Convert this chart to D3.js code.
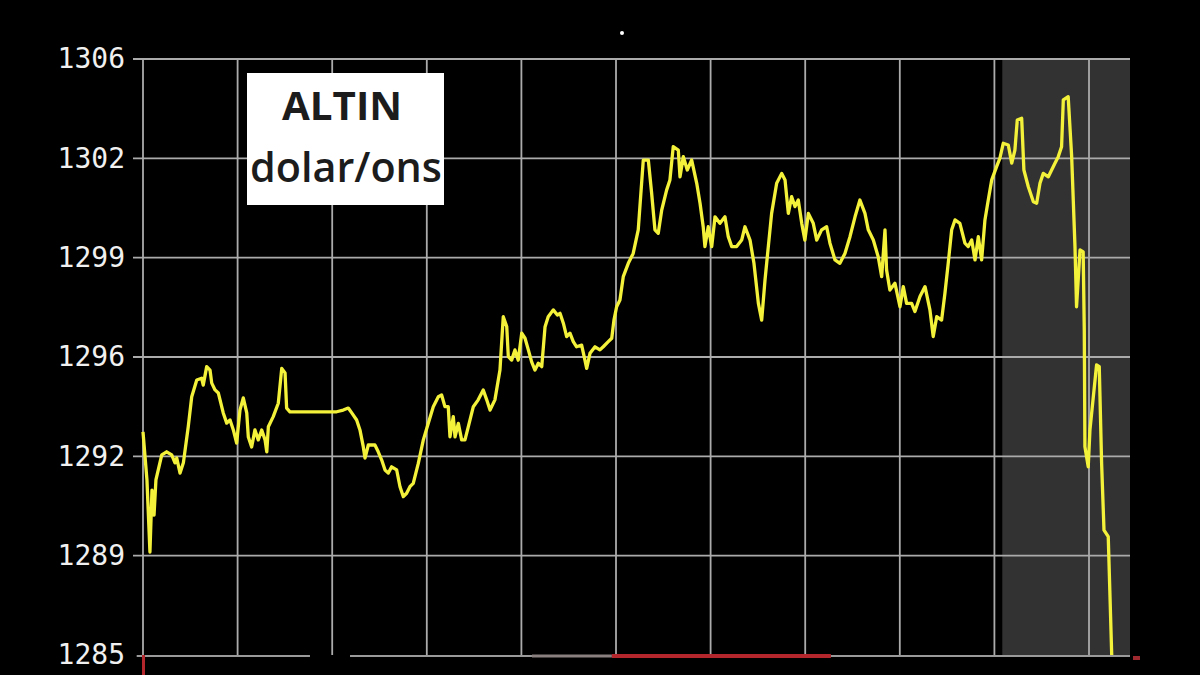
<!DOCTYPE html>
<html>
<head>
<meta charset="utf-8">
<script src="https://cdn.jsdelivr.net/npm/d3@7"></script>
<style>
  html, body { margin: 0; padding: 0; background: #000; }
  svg { display: block; }
</style>
</head>
<body>
<svg id="chart" width="1200" height="675"></svg>
<script>
// ---- Data (time in minutes from start of session, price in USD/oz) ----
const minutes = [
  0, 2.5, 4.4, 5.7, 7.0, 8.2, 11.9, 15.0, 18.2, 20.3, 21.4, 23.5, 25.6, 28.7, 30.9, 34.1, 37.2, 38.2, 40.4, 42.5,
  43.6, 45.7, 47.8, 50.9, 53.1, 55.2, 57.3, 59.4, 61.5, 63.6, 65.8, 66.8, 68.9, 71.0, 73.1, 75.3, 77.4, 78.5, 79.5, 82.6,
  85.8, 88.0, 90.1, 91.1, 93.2, 122.8, 127.0, 130.2, 132.4, 135.5, 137.6, 139.7, 140.8, 142.9, 147.1, 149.2, 151.4, 153.5, 155.6, 157.7,
  160.9, 163.0, 165.1, 167.2, 169.3, 171.4, 174.6, 177.8, 180.9, 184.1, 187.3, 189.4, 191.5, 193.6, 194.7, 196.8, 197.9, 200.0, 202.1, 204.2,
  206.3, 209.5, 212.6, 215.8, 218.0, 220.1, 223.2, 226.4, 228.5, 230.7, 231.7, 233.8, 235.9, 238.0, 240.2, 242.3, 244.4, 246.5, 248.6, 250.7,
  252.9, 255.0, 257.0, 260.2, 262.8, 264.5, 266.6, 268.7, 270.8, 272.9, 275.0, 278.2, 280.3, 281.4, 283.5, 286.7, 289.8, 291.9, 295.1, 297.3,
  298.7, 300.4, 302.5, 304.6, 307.8, 310.9, 314.1, 317.3, 320.5, 322.6, 324.7, 326.8, 329.0, 332.1, 334.2, 336.3, 339.5, 340.6, 342.7, 345.2,
  348.0, 351.2, 353.3, 355.3, 356.4, 358.5, 360.7, 362.8, 365.9, 369.1, 371.2, 373.4, 376.5, 379.7, 381.8, 385.0, 387.5, 390.3, 392.4, 394.5,
  396.6, 398.7, 401.9, 405.1, 407.2, 409.3, 411.4, 413.5, 415.6, 417.8, 419.8, 422.0, 425.1, 427.3, 430.4, 433.6, 435.7, 438.9, 442.0, 445.2,
  448.4, 451.6, 454.7, 457.9, 460.0, 463.2, 466.3, 468.5, 470.6, 471.6, 473.7, 476.9, 480.1, 482.2, 484.3, 487.5, 489.6, 492.8, 496.0, 499.1,
  501.2, 503.4, 506.5, 508.6, 510.7, 512.9, 515.0, 518.1, 521.3, 523.4, 525.6, 527.7, 529.8, 531.9, 534.0, 536.1, 538.3, 541.4, 543.5, 545.6,
  548.8, 551.0, 553.0, 554.5, 557.3, 558.7, 561.5, 564.7, 566.8, 568.9, 571.0, 574.2, 576.3, 578.4, 580.5, 582.6, 583.7, 586.8, 589.0, 591.1,
  592.1, 594.3, 596.3, 597.0, 597.4, 599.5, 600.6, 604.8, 606.5, 608.0, 609.5, 612.2, 614.4
];
const prices = [
  1292.86, 1291.17, 1288.63, 1290.81, 1289.93, 1291.17, 1292.05, 1292.16, 1292.05, 1291.77, 1291.94, 1291.41, 1291.77, 1293.04, 1294.10, 1294.69, 1294.75, 1294.51, 1295.16, 1295.04,
  1294.58, 1294.34, 1294.23, 1293.53, 1293.17, 1293.28, 1292.93, 1292.47, 1293.63, 1294.06, 1293.53, 1292.68, 1292.33, 1292.93, 1292.58, 1292.93, 1292.58, 1292.16, 1293.04, 1293.40,
  1293.87, 1295.10, 1294.94, 1293.70, 1293.57, 1293.57, 1293.63, 1293.70, 1293.53, 1293.28, 1292.93, 1292.34, 1291.94, 1292.40, 1292.40, 1292.16, 1291.87, 1291.52, 1291.41, 1291.63,
  1291.52, 1290.93, 1290.58, 1290.70, 1290.93, 1291.05, 1291.75, 1292.58, 1293.16, 1293.75, 1294.10, 1294.16, 1293.75, 1293.75, 1292.69, 1293.40, 1292.69, 1293.16, 1292.58, 1292.58,
  1293.04, 1293.75, 1293.99, 1294.34, 1293.99, 1293.63, 1293.99, 1295.04, 1296.92, 1296.57, 1295.51, 1295.39, 1295.75, 1295.39, 1296.34, 1296.16, 1295.75, 1295.33, 1295.04, 1295.28,
  1295.16, 1296.57, 1296.92, 1297.16, 1296.98, 1297.04, 1296.69, 1296.22, 1296.34, 1296.04, 1295.86, 1295.92, 1295.39, 1295.10, 1295.63, 1295.86, 1295.75, 1295.86, 1296.04, 1296.16,
  1296.80, 1297.27, 1297.51, 1298.33, 1298.80, 1299.15, 1299.98, 1302.44, 1302.44, 1301.27, 1299.98, 1299.86, 1300.68, 1301.38, 1301.74, 1302.91, 1302.79, 1301.85, 1302.56, 1302.09,
  1302.44, 1301.62, 1300.92, 1300.09, 1299.39, 1300.09, 1299.39, 1300.44, 1300.21, 1300.44, 1299.74, 1299.39, 1299.39, 1299.62, 1300.09, 1299.62, 1298.80, 1297.39, 1296.80, 1298.21,
  1299.39, 1300.56, 1301.62, 1301.97, 1301.74, 1300.56, 1301.15, 1300.80, 1301.03, 1300.21, 1299.62, 1300.56, 1300.21, 1299.62, 1299.98, 1300.09, 1299.51, 1298.92, 1298.80, 1299.15,
  1299.74, 1300.44, 1301.03, 1300.56, 1299.98, 1299.62, 1299.03, 1298.33, 1299.98, 1298.57, 1297.86, 1298.10, 1297.27, 1297.98, 1297.39, 1297.39, 1297.10, 1297.63, 1297.98, 1297.16,
  1296.22, 1296.92, 1296.80, 1297.74, 1298.80, 1299.98, 1300.33, 1300.21, 1299.51, 1299.39, 1299.62, 1298.92, 1299.74, 1298.92, 1300.33, 1301.03, 1301.74, 1302.21, 1302.51, 1303.03,
  1302.97, 1302.33, 1302.79, 1303.85, 1303.91, 1302.09, 1301.50, 1300.97, 1300.92, 1301.62, 1301.97, 1301.85, 1302.09, 1302.33, 1302.56, 1302.91, 1304.56, 1304.67, 1302.56, 1299.39,
  1297.27, 1299.27, 1299.20, 1296.45, 1292.34, 1291.63, 1292.93, 1295.22, 1295.16, 1291.75, 1289.40, 1289.17, 1285.00
];

const yTickValues = [1285, 1288.5, 1292, 1295.5, 1299, 1302.5, 1306];
const yTickLabels = ["1285", "1289", "1292", "1296", "1299", "1302", "1306"];
const xGridMinutes = [0, 60, 120, 180, 240, 300, 360, 420, 480, 540, 600];
const titleLines = ["ALTIN", "dolar/ons"];
// after-hours shaded window (minutes)
const shadeWindow = [545, 626];
// session strip along the bottom: [start, end, kind]
const stripStart = [-4, 131.3, 246.7, 297.4, 436.3];
const stripEnd   = [105.9, 246.7, 297.4, 436.3, 626];
const stripKind  = ["gray", "gray", "light", "red", "gray"];

// ---- Layout ----
const svg = d3.select("#chart");
const W = 1200, H = 675;
svg.append("rect").attr("width", W).attr("height", H).attr("fill", "#000");

const x = d3.scaleLinear().domain([0, 626]).range([143, 1130]);
const y = d3.scaleLinear().domain([1285, 1306]).range([655, 59]);

// shaded window
svg.append("rect")
  .attr("x", x(shadeWindow[0]))
  .attr("y", y(1306))
  .attr("width", x(shadeWindow[1]) - x(shadeWindow[0]))
  .attr("height", y(1285) - y(1306))
  .attr("fill", "#323232");

// horizontal grid (except bottom which is the session strip)
svg.append("g").selectAll("line")
  .data(yTickValues.filter(v => v !== 1285))
  .join("line")
  .attr("x1", x(0) - 10).attr("x2", x(626))
  .attr("y1", d => y(d)).attr("y2", d => y(d))
  .attr("stroke", "#ababab").attr("stroke-width", 1.8);

// vertical grid
svg.append("g").selectAll("line")
  .data(xGridMinutes)
  .join("line")
  .attr("x1", d => x(d)).attr("x2", d => x(d))
  .attr("y1", y(1306)).attr("y2", y(1285))
  .attr("stroke", "#ababab").attr("stroke-width", 1.8);

// bottom session strip
const stripColor = { gray: "#9a9a9a", light: "#8a8080", red: "#b3262b" };
const stripWidth = { gray: 2, light: 3, red: 4 };
svg.append("g").selectAll("line")
  .data(d3.range(stripStart.length))
  .join("line")
  .attr("x1", i => x(stripStart[i])).attr("x2", i => x(stripEnd[i]))
  .attr("y1", y(1285) + 1).attr("y2", y(1285) + 1)
  .attr("stroke", i => stripColor[stripKind[i]])
  .attr("stroke-width", i => stripWidth[stripKind[i]]);

// small red markers at the ends of the strip
svg.append("rect")
  .attr("x", x(0) - 1).attr("y", y(1285))
  .attr("width", 3).attr("height", H - y(1285))
  .attr("fill", "#b3262b");
svg.append("rect")
  .attr("x", x(626) + 3).attr("y", y(1285) + 1)
  .attr("width", 7).attr("height", 4)
  .attr("fill", "#9e2a30");

// y axis labels
const yAxis = d3.axisLeft(y)
  .tickValues(yTickValues)
  .tickFormat((d, i) => yTickLabels[i])
  .tickSize(0)
  .tickPadding(18);
const gy = svg.append("g").attr("transform", `translate(${x(0)},0)`).call(yAxis);
gy.select(".domain").remove();
gy.selectAll("text")
  .attr("fill", "#f0f0f0")
  .style("font-family", "'DejaVu Sans Mono', monospace")
  .style("font-size", "28px");

// price line
const data = minutes.map((m, i) => ({ m, p: prices[i] }));
svg.append("path")
  .datum(data)
  .attr("fill", "none")
  .attr("stroke", "#f4f13a")
  .attr("stroke-width", 3.3)
  .attr("stroke-linejoin", "round")
  .attr("d", d3.line().x(d => x(d.m)).y(d => y(d.p)));

// title box
const tb = svg.append("g");
tb.append("rect")
  .attr("x", 247).attr("y", 73).attr("width", 197).attr("height", 132)
  .attr("fill", "#ffffff");
tb.append("text")
  .attr("x", 342).attr("y", 120)
  .attr("text-anchor", "middle")
  .attr("fill", "#1c1c1c")
  .style("font-family", "'Open Sans', sans-serif")
  .style("font-weight", 700)
  .style("font-size", "40px")
  .attr("textLength", 120)
  .attr("lengthAdjust", "spacingAndGlyphs")
  .text(titleLines[0]);
tb.append("text")
  .attr("x", 346).attr("y", 182)
  .attr("text-anchor", "middle")
  .attr("fill", "#1c1c1c")
  .style("font-family", "'Open Sans', sans-serif")
  .style("font-weight", 600)
  .style("font-size", "41px")
  .attr("textLength", 192)
  .attr("lengthAdjust", "spacingAndGlyphs")
  .text(titleLines[1]);

// small white dot at top
svg.append("circle").attr("cx", 622).attr("cy", 33).attr("r", 2).attr("fill", "#ffffff");
</script>
</body>
</html>
